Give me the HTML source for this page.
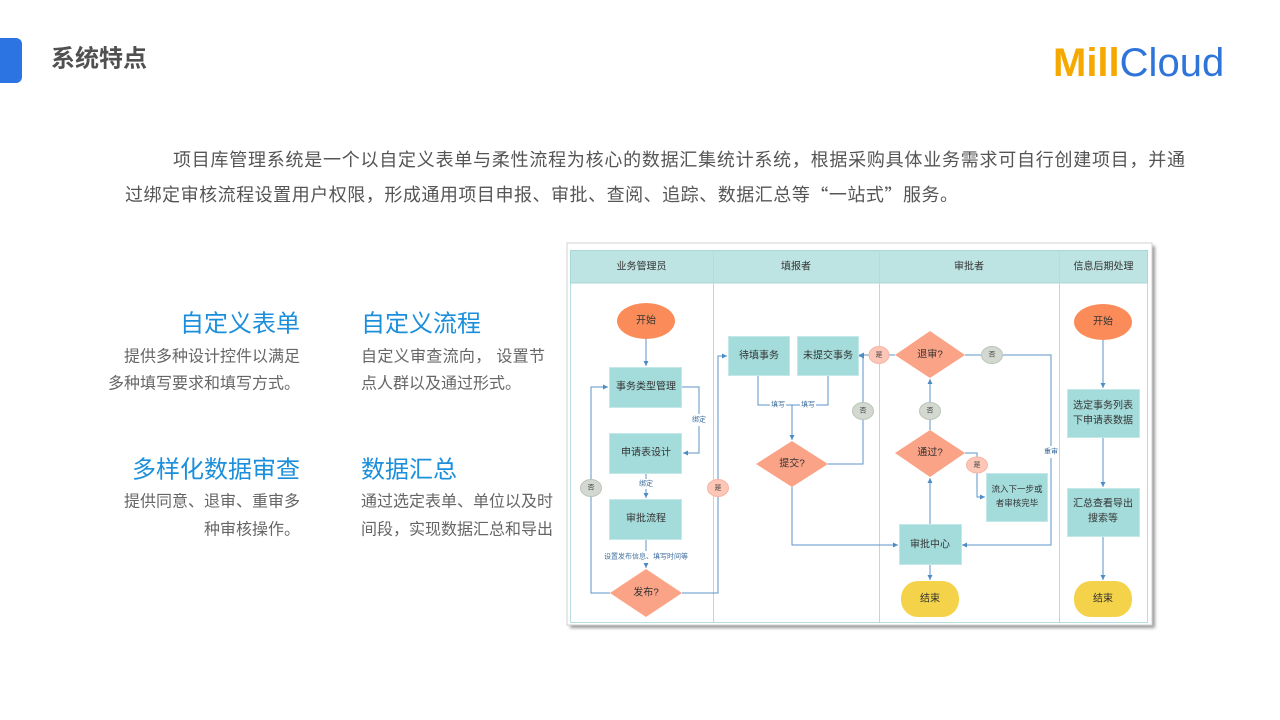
<!DOCTYPE html>
<html>
<head>
<meta charset="utf-8">
<style>
html,body{margin:0;padding:0;background:#fff;}
body{width:1280px;height:720px;overflow:hidden;position:relative;}
svg{position:absolute;left:0;top:0;}
text{font-family:"Liberation Sans","Noto Sans CJK SC",sans-serif;}
</style>
</head>
<body>
<svg width="1280" height="720" viewBox="0 0 1280 720" xmlns="http://www.w3.org/2000/svg">
<defs>
<marker id="ar" markerWidth="6" markerHeight="6" refX="5" refY="3" orient="auto" markerUnits="userSpaceOnUse">
<path d="M0,0.5 L5,3 L0,5.5 Z" fill="#4d8bc4"/>
</marker>
<filter id="sh" x="-5%" y="-5%" width="110%" height="110%">
<feGaussianBlur stdDeviation="1.5"/>
</filter>
</defs>

<!-- header -->
<rect x="-10" y="38" width="32" height="45" rx="6" fill="#2b74e2"/>
<text x="51" y="59" font-size="24" font-weight="bold" fill="#505050" dominant-baseline="central">系统特点</text>
<text x="1053" y="76" font-size="40"><tspan font-weight="bold" fill="#f5a900">Mill</tspan><tspan fill="#2f74d9">Cloud</tspan></text>

<!-- paragraph -->
<text x="173" y="160" font-size="18" fill="#555" dominant-baseline="central" textLength="1012" lengthAdjust="spacing">项目库管理系统是一个以自定义表单与柔性流程为核心的数据汇集统计系统，根据采购具体业务需求可自行创建项目，并通</text>
<text x="125" y="195" font-size="18" fill="#555" dominant-baseline="central" textLength="833" lengthAdjust="spacing">过绑定审核流程设置用户权限，形成通用项目申报、审批、查阅、追踪、数据汇总等<tspan font-family="Noto Sans CJK SC, sans-serif">“</tspan>一站式<tspan font-family="Noto Sans CJK SC, sans-serif">”</tspan>服务。</text>

<!-- features -->
<g font-size="24" fill="#1b8fdb" dominant-baseline="central">
<text x="300" y="324" text-anchor="end">自定义表单</text>
<text x="361" y="324">自定义流程</text>
<text x="300" y="470" text-anchor="end">多样化数据审查</text>
<text x="361" y="470">数据汇总</text>
</g>
<g font-size="16" fill="#666" dominant-baseline="central">
<text x="300" y="357" text-anchor="end">提供多种设计控件以满足</text>
<text x="300" y="384" text-anchor="end">多种填写要求和填写方式。</text>
<text x="361" y="357" textLength="184" lengthAdjust="spacing">自定义审查流向， 设置节</text>
<text x="361" y="384">点人群以及通过形式。</text>
<text x="300" y="502" text-anchor="end">提供同意、退审、重审多</text>
<text x="300" y="530" text-anchor="end">种审核操作。</text>
<text x="361" y="502">通过选定表单、单位以及时</text>
<text x="361" y="530">间段，实现数据汇总和导出</text>
</g>

<!-- diagram frame -->
<rect x="570" y="246" width="585" height="382" fill="#9a9a9a" filter="url(#sh)"/>
<rect x="567" y="243" width="585" height="382" fill="#fff" stroke="#d2d2d2" stroke-width="1"/>
<rect x="570.5" y="250.5" width="577" height="372" fill="#fff" stroke="#b8dfe0" stroke-width="1"/>
<rect x="570.5" y="250.5" width="577" height="32.5" fill="#bee3e3" stroke="#a9d6d7" stroke-width="1"/>
<g stroke="#b3dcdd" stroke-width="1">
<line x1="713.5" y1="250" x2="713.5" y2="623"/>
<line x1="879.5" y1="250" x2="879.5" y2="623"/>
<line x1="1059.5" y1="250" x2="1059.5" y2="623"/>
</g>
<g font-size="10" fill="#333" text-anchor="middle" dominant-baseline="central">
<text x="641.5" y="267">业务管理员</text>
<text x="796" y="267">填报者</text>
<text x="969" y="267">审批者</text>
<text x="1103.5" y="267">信息后期处理</text>
</g>

<!-- connectors -->
<g fill="none" stroke="#5b93c7" stroke-width="1">
<path d="M646,339 L646,366" marker-end="url(#ar)"/>
<path d="M682,387 L699,387 L699,453 L683,453" marker-end="url(#ar)"/>
<path d="M646,473 L646,498" marker-end="url(#ar)"/>
<path d="M646,539 L646,568" marker-end="url(#ar)"/>
<path d="M610,593 L591,593 L591,387 L608,387" marker-end="url(#ar)"/>
<path d="M682,593 L718,593 L718,356 L727,356" marker-end="url(#ar)"/>
<path d="M758,375 L758,405 L828,405 L828,375"/>
<path d="M792,405 L792,440" marker-end="url(#ar)"/>
<path d="M828,464 L863,464 L863,356 L859,356" marker-end="url(#ar)"/>
<path d="M792,487 L792,545 L898,545" marker-end="url(#ar)"/>
<path d="M895,355 L859,355" marker-end="url(#ar)"/>
<path d="M965,355 L1051,355 L1051,545 L962,545" marker-end="url(#ar)"/>
<path d="M930,524 L930,478" marker-end="url(#ar)"/>
<path d="M930,430 L930,379" marker-end="url(#ar)"/>
<path d="M965,453 L977,453 L977,497 L985,497" marker-end="url(#ar)"/>
<path d="M930,564 L930,580" marker-end="url(#ar)"/>
<path d="M1103,340 L1103,388" marker-end="url(#ar)"/>
<path d="M1103,437 L1103,487" marker-end="url(#ar)"/>
<path d="M1103,536 L1103,580" marker-end="url(#ar)"/>
</g>

<!-- small edge labels -->
<g font-size="7" fill="#3f6f9e" text-anchor="middle" dominant-baseline="central">
<rect x="692" y="414" width="14" height="12" fill="#fff"/>
<text x="699" y="420">绑定</text>
<rect x="638" y="479" width="16" height="10" fill="#fff"/>
<text x="646" y="484">绑定</text>
<rect x="602" y="551" width="88" height="12" fill="#fff"/>
<text x="646" y="557">设置发布信息、填写时间等</text>
<rect x="770" y="400" width="16" height="10" fill="#fff"/>
<text x="778" y="405">填写</text>
<rect x="800" y="400" width="16" height="10" fill="#fff"/>
<text x="808" y="405">填写</text>
<rect x="1044" y="446" width="14" height="12" fill="#fff"/>
<text x="1051" y="452">重审</text>
</g>

<!-- yes/no bubbles -->
<g stroke-width="1">
<ellipse cx="591" cy="488" rx="10.5" ry="8.5" fill="#d3d9d1" stroke="#bcc4ba"/>
<ellipse cx="718" cy="488" rx="10.5" ry="8.5" fill="#fdc6b6" stroke="#f7b5a2"/>
<ellipse cx="863" cy="411" rx="10.5" ry="8.5" fill="#d3d9d1" stroke="#bcc4ba"/>
<ellipse cx="879" cy="355" rx="10" ry="8.5" fill="#fdc6b6" stroke="#f7b5a2"/>
<ellipse cx="992" cy="355" rx="10.5" ry="8.5" fill="#d3d9d1" stroke="#bcc4ba"/>
<ellipse cx="930" cy="411" rx="10.5" ry="8.5" fill="#d3d9d1" stroke="#bcc4ba"/>
<ellipse cx="977" cy="465" rx="10.5" ry="8" fill="#fdc6b6" stroke="#f7b5a2"/>
</g>
<g font-size="7" fill="#444" text-anchor="middle" dominant-baseline="central">
<text x="591" y="488">否</text>
<text x="718" y="488">是</text>
<text x="863" y="411">否</text>
<text x="879" y="355">是</text>
<text x="992" y="355">否</text>
<text x="930" y="411">否</text>
<text x="977" y="465">是</text>
</g>

<!-- nodes -->
<g stroke="#c3e8e7" stroke-width="1" fill="#a4dcdb">
<rect x="609.5" y="367.5" width="72" height="40"/>
<rect x="609.5" y="433.5" width="72" height="40"/>
<rect x="609.5" y="499.5" width="72" height="40"/>
<rect x="728.5" y="336.5" width="61" height="39"/>
<rect x="797.5" y="336.5" width="61" height="39"/>
<rect x="986.5" y="473.5" width="61" height="48"/>
<rect x="899.5" y="524.5" width="62" height="40"/>
<rect x="1067.5" y="389.5" width="72" height="48"/>
<rect x="1067.5" y="488.5" width="72" height="48"/>
</g>
<g fill="#fba386">
<polygon points="646,569 682,593 646,617 610,593"/>
<polygon points="792,441 828,464 792,487 756,464"/>
<polygon points="930,331 965,355 930,378 895,355"/>
<polygon points="930,430 965,453 930,477 895,453"/>
</g>
<ellipse cx="646" cy="321" rx="29" ry="18" fill="#fb8c5a"/>
<ellipse cx="1103" cy="322" rx="29" ry="18" fill="#fb8c5a"/>
<rect x="901" y="581" width="58" height="36" rx="17" fill="#f4d34a"/>
<rect x="1074" y="581" width="58" height="36" rx="17" fill="#f4d34a"/>

<g font-size="10" fill="#333" text-anchor="middle" dominant-baseline="central">
<text x="646" y="321">开始</text>
<text x="1103" y="322">开始</text>
<text x="646" y="387">事务类型管理</text>
<text x="646" y="453">申请表设计</text>
<text x="646" y="519">审批流程</text>
<text x="646" y="593">发布?</text>
<text x="759" y="356">待填事务</text>
<text x="828" y="356">未提交事务</text>
<text x="792" y="464">提交?</text>
<text x="930" y="355">退审?</text>
<text x="930" y="453">通过?</text>
<text x="930" y="545">审批中心</text>
<text x="930" y="599">结束</text>
<text x="1103" y="599">结束</text>
<text x="1103" y="406">选定事务列表</text>
<text x="1103" y="421">下申请表数据</text>
<text x="1103" y="504">汇总查看导出</text>
<text x="1103" y="519">搜索等</text>
<text x="1017" y="489" font-size="8.5">流入下一步或</text>
<text x="1017" y="503" font-size="8.5">者审核完毕</text>
</g>
</svg>
</body>
</html>
